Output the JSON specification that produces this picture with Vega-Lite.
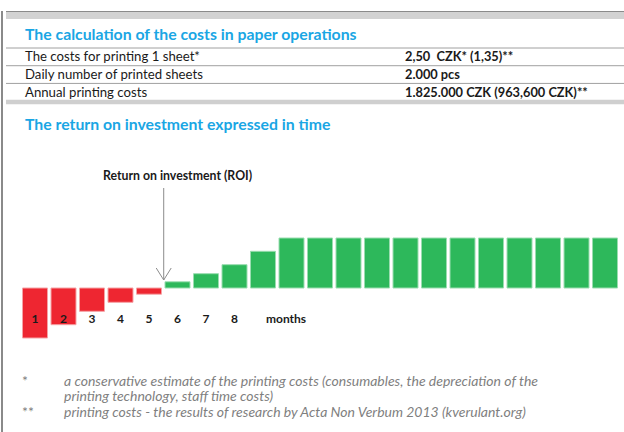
{
  "$schema": "https://vega.github.io/schema/vega-lite/v6.json",
  "padding": {"left": 1, "top": 11, "right": 0, "bottom": 0},
  "autosize": {"type": "pad"},
  "background": "white",
  "config": {"view": {"stroke": null}, "font": "Lato", "concat": {"spacing": 0}},
  "spacing": 0,
  "hconcat": [
    {
      "width": 2,
      "height": 421,
      "data": {"values": [{"part": "frame"}]},
      "mark": {"type": "rect", "fill": "#8a8a8a"},
      "encoding": {}
    },
    {
      "spacing": 0,
      "vconcat": [
        {
          "width": 621,
          "height": 15,
          "data": {"values": [{"part": "band"}]},
          "mark": {
            "type": "rect",
            "fill": {
              "gradient": "linear", "x1": 0, "y1": 0, "x2": 0, "y2": 1,
              "stops": [
                {"offset": 0, "color": "#8a8a8a"},
                {"offset": 0.075, "color": "#8a8a8a"},
                {"offset": 0.075, "color": "#d2d2d2"},
                {"offset": 0.51, "color": "#d2d2d2"},
                {"offset": 0.51, "color": "#ffffff"},
                {"offset": 1, "color": "#ffffff"}
              ]
            }
          },
          "encoding": {}
        },
        {
          "width": 621,
          "height": 68.3,
          "title": {"text": "The calculation of the costs in paper operations", "anchor": "start", "frame": "group", "dx": 19, "fontSize": 15.8, "fontWeight": "bold", "color": "#1AA6E4", "offset": 4},
          "data": {"values": [
            {"row": 1, "item": "The costs for printing 1 sheet*", "amount": "2,50\u00a0 CZK* (1,35)**"},
            {"row": 2, "item": "Daily number of printed sheets", "amount": "2.000 pcs"},
            {"row": 3, "item": "Annual printing costs", "amount": "1.825.000 CZK (963,600 CZK)**"}
          ]},
          "layer": [
            {
              "mark": {"type": "rule", "color": "#a0a0a0", "strokeWidth": 1},
              "encoding": {"y": {"field": "row", "type": "ordinal", "bandPosition": 0, "axis": null, "scale": {"type": "band", "paddingInner": 0, "paddingOuter": 0.429, "align": 0}}}
            },
            {
              "transform": [{"filter": "datum.row == 3"}],
              "mark": {"type": "rule", "color": "#cfcfcf", "strokeWidth": 4.5, "yOffset": 1},
              "encoding": {"y": {"field": "row", "type": "ordinal", "bandPosition": 1}}
            },
            {
              "mark": {"type": "text", "align": "left", "baseline": "middle", "fontSize": 13.2, "color": "#1a1a1a", "dy": 0.5},
              "encoding": {
                "x": {"datum": "item", "type": "nominal", "axis": null, "scale": {"type": "point", "padding": 0, "domain": ["item", "amount"], "range": [19, 399]}},
                "y": {"field": "row", "type": "ordinal", "bandPosition": 0.5},
                "text": {"field": "item"}
              }
            },
            {
              "mark": {"type": "text", "align": "left", "baseline": "middle", "fontSize": 12.8, "fontWeight": "bold", "color": "#1a1a1a", "dy": 0.5},
              "encoding": {
                "x": {"datum": "amount", "type": "nominal"},
                "y": {"field": "row", "type": "ordinal", "bandPosition": 0.5},
                "text": {"field": "amount"}
              }
            }
          ]
        },
        {
          "width": 621,
          "height": 210,
          "title": {"text": "The return on investment expressed in time", "anchor": "start", "frame": "group", "dx": 19, "fontSize": 15.8, "fontWeight": "bold", "color": "#1AA6E4", "offset": 4},
          "layer": [
            {
              "data": {"values": [
                {"month": 1, "value": -5.0}, {"month": 2, "value": -3.67}, {"month": 3, "value": -2.33},
                {"month": 4, "value": -1.43}, {"month": 5, "value": -0.62}, {"month": 6, "value": 0.62},
                {"month": 7, "value": 1.43}, {"month": 8, "value": 2.33}, {"month": 9, "value": 3.67},
                {"month": 10, "value": 5.0}, {"month": 11, "value": 5.0}, {"month": 12, "value": 5.0},
                {"month": 13, "value": 5.0}, {"month": 14, "value": 5.0}, {"month": 15, "value": 5.0},
                {"month": 16, "value": 5.0}, {"month": 17, "value": 5.0}, {"month": 18, "value": 5.0},
                {"month": 19, "value": 5.0}, {"month": 20, "value": 5.0}, {"month": 21, "value": 5.0}
              ]},
              "layer": [
                {
                  "mark": {"type": "bar", "strokeWidth": 1},
                  "encoding": {
                    "x": {"field": "month", "type": "ordinal", "axis": null, "scale": {"domain": [1,2,3,4,5,6,7,8,9,10,11,12,13,14,15,16,17,18,19,20,21], "paddingInner": 0.123, "paddingOuter": 0.456, "align": 0.635}},
                    "y": {"field": "value", "type": "quantitative", "axis": null, "scale": {"domain": [-6, 15], "nice": false, "zero": false}},
                    "fill": {"condition": {"test": "datum.value < 0", "value": "#EE2631"}, "value": "#2DB85B"},
                    "stroke": {"condition": {"test": "datum.value < 0", "value": "#F5A3A6"}, "value": "#9ADDB0"}
                  }
                },
                {
                  "transform": [{"filter": "datum.month <= 8"}],
                  "mark": {"type": "text", "baseline": "middle", "fontSize": 12, "fontWeight": "bold", "color": "#1a1a1a"},
                  "encoding": {
                    "x": {"field": "month", "type": "ordinal"},
                    "y": {"datum": -3.1},
                    "text": {"field": "month"}
                  }
                }
              ]
            },
            {
              "data": {"values": [{"month": 10, "unit": "months"}]},
              "mark": {"type": "text", "baseline": "middle", "fontSize": 12, "fontWeight": "bold", "color": "#1a1a1a", "dx": -5.5},
              "encoding": {
                "x": {"field": "month", "type": "ordinal"},
                "y": {"datum": -3.1},
                "text": {"field": "unit"}
              }
            },
            {
              "data": {"values": [{"month": 6, "note": "Return on investment (ROI)"}]},
              "layer": [
                {
                  "mark": {"type": "text", "baseline": "middle", "fontSize": 12.3, "fontWeight": "bold", "color": "#1a1a1a"},
                  "encoding": {
                    "x": {"field": "month", "type": "ordinal"},
                    "y": {"datum": 11.2},
                    "text": {"field": "note"}
                  }
                },
                {
                  "mark": {"type": "rule", "color": "#8c8c8c", "strokeWidth": 1, "xOffset": -1.3},
                  "encoding": {
                    "x": {"field": "month", "type": "ordinal", "bandPosition": 0},
                    "y": {"datum": 10},
                    "y2": {"datum": 0.8}
                  }
                },
                {
                  "mark": {"type": "point", "shape": "M-1,-1.6L0,0L1,-1.6", "size": 225, "filled": false, "stroke": "#8c8c8c", "strokeWidth": 1, "opacity": 1, "xOffset": -1.3},
                  "encoding": {
                    "x": {"field": "month", "type": "ordinal", "bandPosition": 0},
                    "y": {"datum": 0.8}
                  }
                }
              ]
            }
          ]
        },
        {
          "width": 621,
          "height": 72.5,
          "data": {"values": [
            {"line": 1, "sign": "*", "note": "a conservative estimate of the printing costs (consumables, the depreciation of the"},
            {"line": 2, "sign": "", "note": "printing technology, staff time costs)"},
            {"line": 3, "sign": "**", "note": "printing costs - the results of research by Acta Non Verbum 2013 (kverulant.org)"}
          ]},
          "layer": [
            {
              "mark": {"type": "text", "align": "left", "baseline": "middle", "fontSize": 14, "color": "#7f7f7f"},
              "encoding": {
                "x": {"datum": "sign", "type": "nominal", "axis": null, "scale": {"type": "point", "padding": 0, "domain": ["sign", "note"], "range": [16, 58]}},
                "y": {"field": "line", "type": "ordinal", "axis": null, "bandPosition": 0.5, "scale": {"type": "band", "paddingInner": 0, "paddingOuter": 0.839, "align": 1}},
                "text": {"field": "sign"}
              }
            },
            {
              "mark": {"type": "text", "align": "left", "baseline": "middle", "fontSize": 14, "fontStyle": "italic", "color": "#7f7f7f"},
              "encoding": {
                "x": {"datum": "note", "type": "nominal"},
                "y": {"field": "line", "type": "ordinal", "bandPosition": 0.5},
                "text": {"field": "note"}
              }
            }
          ]
        }
      ]
    }
  ]
}
